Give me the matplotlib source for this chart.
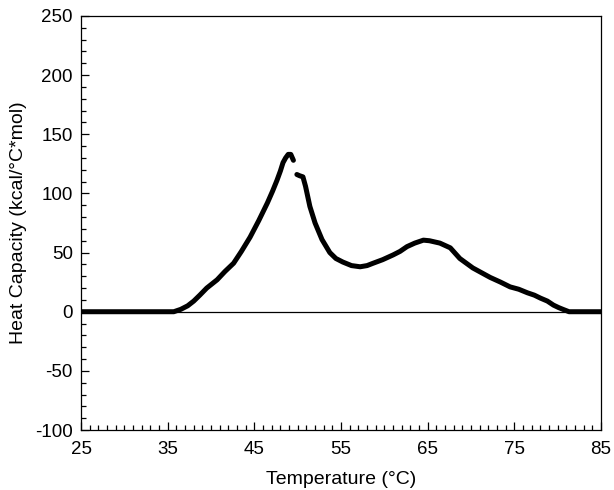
import matplotlib.pyplot as plt
import numpy as np
from matplotlib.ticker import MultipleLocator

plt.rcParams['font.family'] = ['Liberation Sans', 'DejaVu Sans']
plt.rcParams['axes.unicode_minus'] = False

# values (temperature in °C, Cp in kcal/°C*mol)
temperature = [25, 28, 31, 34, 35.7, 36.5, 37.3, 38.0, 38.7, 39.5, 40.7, 41.6, 42.6,
               43.5, 44.5, 45.5, 46.5, 47.1, 47.6, 48.0, 48.3, 48.6, 48.9, 49.2,
               49.5, None, 49.9, 50.2, 50.6, 50.9, 51.4, 52.0, 52.8, 53.7, 54.4,
               55.2, 56.2, 57.2, 58.0, 58.7, 59.8, 61.0, 61.8, 62.6, 63.5, 64.5,
               65.2, 66.4, 67.6, 68.7, 70.2, 71.2, 72.2, 73.4, 74.5, 75.5, 76.5,
               77.3, 78.0, 78.8, 79.5, 80.1, 80.6, 81.3, 83, 85]
heat_capacity = [0, 0, 0, 0, 0, 2, 5, 9, 14, 20, 27, 34, 41,
                 51, 63, 77, 92, 102, 111, 119, 126, 130, 133, 133,
                 128, None, 116, 115, 114, 106, 89, 75, 61, 50, 45,
                 42, 39, 38, 39, 41, 44, 48, 51, 55, 58, 60.5,
                 60, 58, 54, 45, 37, 33, 29, 25, 21, 19, 16,
                 14, 11.5, 9, 5.6, 3.5, 2, 0, 0, 0]

x = np.array([np.nan if v is None else v for v in temperature], dtype=float)
y = np.array([np.nan if v is None else v for v in heat_capacity], dtype=float)

fig = plt.figure(figsize=(6.14, 4.9), dpi=100)
ax = fig.add_axes([0.132, 0.1224, 0.847, 0.845])

ax.axhline(0, color='black', linewidth=0.9)
ax.plot(x, y, color='black', linewidth=3.6, solid_capstyle='round', solid_joinstyle='round')

ax.set_xlim(25, 85)
ax.set_ylim(-100, 250)
ax.xaxis.set_major_locator(MultipleLocator(10, offset=5))
ax.xaxis.set_minor_locator(MultipleLocator(1))
ax.yaxis.set_major_locator(MultipleLocator(50))
ax.yaxis.set_minor_locator(MultipleLocator(10))
ax.tick_params(which='both', direction='in', top=False, right=False, labelsize=13.5, width=0.9)
ax.tick_params(which='major', length=6, pad=6)
ax.tick_params(which='minor', length=3.5)
ax.tick_params(axis='x', which='major', pad=8)

for s in ax.spines.values():
    s.set_linewidth(0.9)

ax.set_xlabel('Temperature (°C)', fontsize=14, labelpad=9)
ax.set_ylabel('Heat Capacity (kcal/°C*mol)', fontsize=14, labelpad=6)

fig.savefig('out.png', dpi=100)
